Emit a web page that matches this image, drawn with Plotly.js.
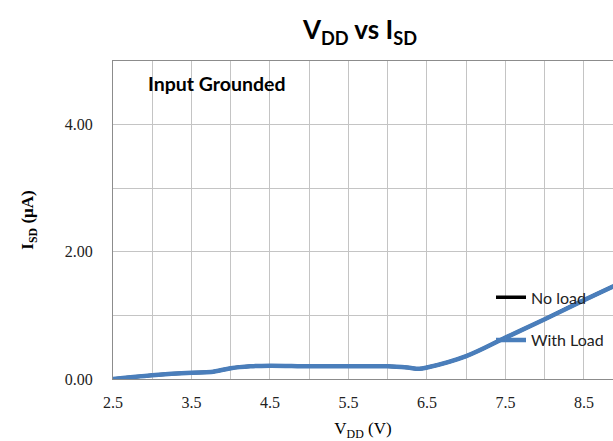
<!DOCTYPE html>
<html>
<head>
<meta charset="utf-8">
<script src="https://cdn.plot.ly/plotly-3.0.1.min.js"></script>
<style>
  html, body { margin: 0; padding: 0; background: #ffffff; }
  #chart { width: 613px; height: 441px; }
</style>
</head>
<body>
<div id="chart"></div>
<script>
// Supply voltage sweep (V)
const vdd = [2.5, 3.0, 3.5, 3.75, 4.0, 4.25, 4.5, 5.0, 5.5, 6.0, 6.25, 6.4, 6.5, 7.0, 7.5, 8.0, 8.5, 9.0];
// Supply current with the output loaded (uA)
const isdWithLoad = [0.00, 0.06, 0.10, 0.11, 0.17, 0.20, 0.21, 0.20, 0.20, 0.20, 0.18, 0.16, 0.18, 0.36, 0.65, 0.94, 1.24, 1.53];
// Supply current without load: runs under the loaded trace over the whole sweep (uA)
const isdNoLoad = [0.00, 0.06, 0.10, 0.11, 0.17, 0.20, 0.21, 0.20, 0.20, 0.20, 0.18, 0.16, 0.18, 0.36, 0.65, 0.94, 1.24, 1.53];

const seriesNames = ['No load', 'With Load'];
const xTickStart = 2.5;

const serif = 'Liberation Serif, Times New Roman, serif';
const sans = 'Lato, Carlito, Calibri, sans-serif';

const traces = [
  {
    x: vdd, y: isdNoLoad, name: seriesNames[0], legendgroup: 'a',
    type: 'scatter', mode: 'lines',
    line: { color: '#000000', width: 3.5, shape: 'spline', smoothing: 1 }
  },
  {
    x: vdd, y: isdWithLoad, name: seriesNames[1], legendgroup: 'b',
    type: 'scatter', mode: 'lines',
    line: { color: '#4A7EBB', width: 4.5, shape: 'spline', smoothing: 1 }
  }
];

const layout = {
  width: 613, height: 441,
  margin: { l: 113, r: 0, t: 61, b: 62 },
  paper_bgcolor: '#ffffff', plot_bgcolor: '#ffffff',
  showlegend: true,
  title: {
    text: '<b>V<sub>DD</sub> vs I<sub>SD</sub></b>',
    font: { family: sans, size: 26, color: '#000000' },
    x: 360 / 613, xanchor: 'center', xref: 'container',
    y: 1 - 30 / 441, yanchor: 'middle', yref: 'container'
  },
  xaxis: {
    range: [2.5, 8.87],
    tick0: xTickStart, dtick: 1, tickformat: '.1f',
    showgrid: true, gridcolor: '#c4c4c4', gridwidth: 1,
    minor: { dtick: 0.5, tick0: xTickStart, showgrid: true, gridcolor: '#c4c4c4', gridwidth: 1 },
    showline: true, linecolor: '#8c8c8c', linewidth: 1, mirror: true,
    zeroline: false, ticks: '', ticklabelstandoff: 9,
    tickfont: { family: serif, size: 16, color: '#222222' },
    title: {
      text: 'V<sub>DD</sub> (V)', standoff: 12,
      font: { family: serif, size: 17, color: '#000000' }
    }
  },
  yaxis: {
    range: [0, 5],
    tick0: 0, dtick: 2, tickformat: '.2f',
    showgrid: true, gridcolor: '#c4c4c4', gridwidth: 1,
    minor: { dtick: 1, showgrid: true, gridcolor: '#c4c4c4', gridwidth: 1 },
    showline: true, linecolor: '#8c8c8c', linewidth: 1, mirror: false,
    zeroline: false, ticks: '', ticklabelstandoff: 16,
    tickfont: { family: serif, size: 16, color: '#222222' },
    title: {
      text: '<b>I<sub>SD</sub> (μA)</b>', standoff: 26,
      font: { family: serif, size: 17, color: '#000000' }
    }
  },
  legend: {
    x: 0.756, xanchor: 'left', y: 0.31, yanchor: 'top',
    bgcolor: 'rgba(0,0,0,0)', borderwidth: 0,
    traceorder: 'grouped', tracegroupgap: 19,
    font: { family: sans, size: 16, color: '#222222' }
  },
  annotations: [
    {
      text: '<b>Input Grounded</b>', xref: 'paper', yref: 'paper',
      x: (146 - 113) / 500, y: 1 - (83 - 61) / 318,
      xanchor: 'left', yanchor: 'middle', showarrow: false,
      font: { family: sans, size: 19.5, color: '#000000' }
    }
  ]
};

Plotly.newPlot('chart', traces, layout, { staticPlot: true, displayModeBar: false });
</script>
</body>
</html>
